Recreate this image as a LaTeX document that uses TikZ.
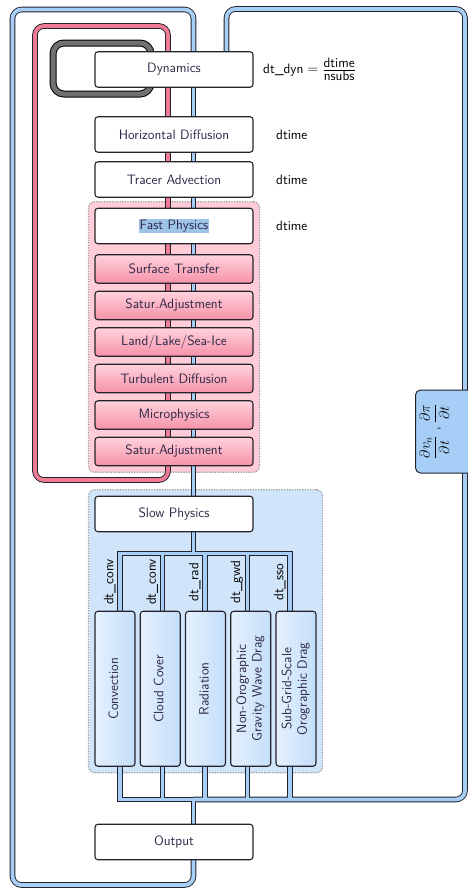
\documentclass[tikz,border=0pt]{standalone}
\usepackage{fontspec}
\usepackage{amsmath}
\usetikzlibrary{positioning}
\usetikzlibrary{fit}

\definecolor{pipeblue}{RGB}{166,206,246}
\definecolor{pipered}{RGB}{238,122,148}
\definecolor{pipegrey}{RGB}{112,112,112}
\definecolor{pipeedge}{RGB}{35,35,45}
\definecolor{fastbg}{RGB}{255,204,216}
\definecolor{slowbg}{RGB}{208,228,250}
\definecolor{pinktop}{RGB}{255,210,220}
\definecolor{pinkbot}{RGB}{246,145,168}
\definecolor{bluel}{RGB}{228,240,253}
\definecolor{bluer}{RGB}{196,222,249}
\definecolor{hilite}{RGB}{158,196,232}
\definecolor{boxtext}{RGB}{45,40,70}

\pgfdeclarelayer{bg}
\pgfdeclarelayer{pipes}
\pgfsetlayers{bg,pipes,main}

\newcommand\flowfont{\sffamily\fontsize{13.6pt}{15.5pt}\selectfont}
\newcommand\vtext[1]{\rotatebox{90}{\begin{tabular}{@{}c@{}}#1\end{tabular}}}

\tikzset{
  block/.style={draw=pipeedge, line width=1.1pt, rounded corners=3pt, fill=white,
    minimum width=158pt, minimum height=35.5pt, text=boxtext, outer sep=0pt},
  fastblock/.style={block, top color=pinktop, bottom color=pinkbot, minimum height=28.5pt},
  slowblock/.style={block, left color=bluel, right color=bluer,
    minimum width=40pt, minimum height=155pt, inner sep=0pt},
  group/.style={rounded corners=6pt, draw=gray!75, line width=1.2pt,
    dash pattern=on 1.3pt off 1.3pt, inner sep=6.5pt},
  steplabel/.style={inner sep=2pt},
  droplabel/.style={rotate=90, anchor=south, inner sep=2pt, outer sep=2.5pt},
  derivbox/.style={draw=pipeedge, line width=1pt, fill=pipeblue, rounded corners=5pt,
    rotate=90, anchor=north, minimum width=83pt, inner sep=4pt, text depth=30pt},
  pipeout/.style={draw=pipeedge, line width=5.6pt},
  pipein/.style={draw=pipeblue, line width=3.8pt},
  redpipe/.style={draw=pipeedge, line width=0.9pt, double=pipered, double distance=3.8pt,
    rounded corners=9pt},
  greypipe/.style={draw=black, line width=1pt, double=pipegrey, double distance=5pt,
    rounded corners=11pt}
}

% blue pipe network, drawn once as border and once as fill
\newcommand\bluenet[1]{%
  \draw[#1, rounded corners=9pt] (out.south -| spine) -- (spine |- lbot) -- (lbot)
    -- (ltop) -- (spine |- ltop) -- (dyn.north -| spine);
  \foreach \a/\b in {dyn/hdiff,hdiff/tadv,tadv/fast,fast/st,st/sa1,sa1/llsi,llsi/turb,turb/micro,micro/sa2,sa2/slow}
    \draw[#1] (\a.south -| spine) -- (\b.north -| spine);
  \draw[#1] (slow.south -| spine) -- (split);
  \foreach \b/\dx in {conv/5,cloud/2.25,rad/-0.5,gwd/-3.25,sso/-6}{
    \draw[#1] (split) -| ([xshift=\dx pt]\b.north);
    \draw[#1] ([xshift=\dx pt]\b.south) |- (join);
  }
  \draw[#1] (join) -- (out.north -| spine);
  \draw[#1, rounded corners=9pt] (join) -- (rbot) -- (rtop) -- (rx |- rtop) -- (dyn.north -| rx);
}

\begin{document}
\begin{tikzpicture}[x=1pt, y=-1pt, font=\flowfont]
	\useasboundingbox (0,0) rectangle (468,889);

	% main column
	\node[block] (dyn) at (174,69.5) {Dynamics};
	\node[block, below=29.5pt of dyn] (hdiff) {Horizontal Diffusion};
	\node[block, below=9.5pt of hdiff] (tadv) {Tracer Advection};
	\node[block, below=11pt of tadv] (fast) {{\setlength{\fboxsep}{1pt}\colorbox{hilite}{Fast Physics}}};
	\node[fastblock, below=11pt of fast] (st) {Surface Transfer};
	\node[fastblock, below=8pt of st] (sa1) {Satur.Adjustment};
	\node[fastblock, below=8pt of sa1] (llsi) {Land/Lake/Sea-Ice};
	\node[fastblock, below=8pt of llsi] (turb) {Turbulent Diffusion};
	\node[fastblock, below=8pt of turb] (micro) {Microphysics};
	\node[fastblock, below=8pt of micro] (sa2) {Satur.Adjustment};
	\node[block, below=30.5pt of sa2] (slow) {Slow Physics};

	% slow physics processes
	\node[slowblock, below right=79.5pt and 0pt of slow.south west] (conv) {\vtext{Convection}};
	\node[slowblock, right=5.25pt of conv] (cloud) {\vtext{Cloud Cover}};
	\node[slowblock, right=5.25pt of cloud] (rad) {\vtext{Radiation}};
	\node[slowblock, right=5.25pt of rad] (gwd) {\vtext{Non-Orographic\\Gravity Wave Drag}};
	\node[slowblock, right=5.25pt of gwd] (sso) {\vtext{Sub-Grid-Scale\\Orographic Drag}};

	\node[block, below right=58pt and 0pt of conv.south west] (out) {Output};

	% time steps
	\node[steplabel, right=8pt of dyn] (dtdyn) {$\mathsf{dt\_dyn} = \frac{\mbox{dtime}}{\mbox{nsubs}}$};
	\node[steplabel, right=21pt of hdiff] (dthdiff) {dtime};
	\node[steplabel, right=21pt of tadv] (dttadv) {dtime};
	\node[steplabel, right=21pt of fast] (dtfast) {dtime};

	% pipe coordinates
	\coordinate (spine) at (193.5,0);
	\coordinate (ltop) at (12.5,9.5);
	\coordinate (lbot) at (12.5,885);
	\coordinate (rx) at (226.5,0);
	\coordinate (rtop) at (465,9);
	\coordinate (rbot) at (465,799.5);
	\coordinate (split) at (193.5,553.5);
	\coordinate (join) at (193.5,799.5);
	\coordinate (redx) at (168,0);
	\coordinate (rtl) at (35,26);
	\coordinate (rbl) at (35,480);
	\coordinate (gx) at (151,0);
	\coordinate (gtl) at (53,43);
	\coordinate (gbl) at (53,94);

	\begin{pgfonlayer}{pipes}
		\bluenet{pipeout}
		\bluenet{pipein}
		\draw[redpipe] (sa2.south -| redx) -- (redx |- rbl) -- (rbl) -- (rtl) -- (redx |- rtl) -- (dyn.north -| redx);
		\foreach \a/\b in {dyn/hdiff,hdiff/tadv,tadv/fast,fast/st,st/sa1,sa1/llsi,llsi/turb,turb/micro,micro/sa2}
			\draw[redpipe] (\a.south -| redx) -- (\b.north -| redx);
		\draw[greypipe] (dyn.south -| gx) -- (gx |- gbl) -- (gbl) -- (gtl) -- (gx |- gtl) -- (dyn.north -| gx);
	\end{pgfonlayer}

	\foreach \b/\dx/\t in {conv/5/dt\_conv,cloud/2.25/dt\_conv,rad/-0.5/dt\_rad,gwd/-3.25/dt\_gwd,sso/-6/dt\_sso}
		\path ([xshift=\dx pt]\b.north) -- ++(0,-58.5) node[midway, droplabel] {\t};

	\node[derivbox] (deriv) at (415,431.5) {$\dfrac{\partial v_n}{\partial t}$ , $\dfrac{\partial \pi}{\partial t}$};

	\begin{pgfonlayer}{bg}
		\node[group, fill=fastbg, fit=(fast)(sa2)] (fastgrp) {};
		\node[group, fill=slowbg, fit=(slow)(conv)(sso)] (slowgrp) {};
	\end{pgfonlayer}
\end{tikzpicture}
\end{document}
